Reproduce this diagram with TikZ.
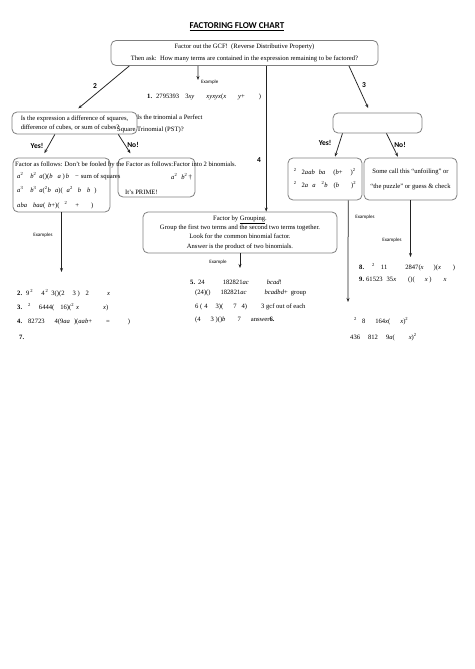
\documentclass[tikz,border=0pt]{standalone}
\usepackage{fontspec}
\setmainfont{Liberation Serif}
\setsansfont{Carlito}
\usetikzlibrary{arrows.meta, positioning, calc}
\definecolor{boxGray}{HTML}{7F7F7F}
\definecolor{lineDark}{HTML}{222222}
\newcommand{\sqd}{\textsuperscript{2}}
\newcommand{\vx}[1]{\textit{#1}}

\begin{document}
\begin{tikzpicture}[x=1pt, y=-1pt,
    every node/.style={font=\fontsize{6.6}{9.3}\selectfont},
    flowbox/.style={draw=boxGray, rounded corners=5pt, line width=0.8pt, align=center, inner sep=1pt},
    row/.style={anchor=west, inner sep=0pt},
    tag/.style={font=\sffamily\bfseries\fontsize{7.5}{8}\selectfont, inner sep=0pt},
    exl/.style={font=\sffamily\fontsize{5}{6}\selectfont, inner sep=0pt},
    arr/.style={-{Stealth[length=4pt, width=3pt]}, line width=0.75pt, draw=lineDark}]
  \useasboundingbox (0,0) rectangle (474,669);

  \node[font=\sffamily\bfseries\fontsize{9}{10}\selectfont] (title) at (237,27) {\underline{FACTORING FLOW CHART}};
  \node[flowbox, minimum width=267pt, minimum height=25pt, font=\fontsize{6.6}{12}\selectfont] (gcf) at (244.5,53) {Factor out the GCF!\ \ (Reverse Distributive Property)\\ Then ask:\ \ How many terms are contained in the expression remaining to be factored?};

  % example 1
  \coordinate (e1top) at ($(gcf.south west)!0.326!(gcf.south east)$);
  \coordinate (e1end) at (198,80);
  \draw[arr] (e1top) -- (e1end);
  \node[exl, anchor=west] (ex1) at (201,82) {Example};
  \node[row] (r1) at (147,97) {\textbf{1.}\hspace{4pt}2795393\hspace{6pt}3\vx{xy}\hspace{12pt}\vx{xyxyx}(\vx{x}\hspace{12pt}\vx{y}+\hspace{14pt})};

  % branch 2
  \node[flowbox, minimum width=125pt, minimum height=22pt, align=left] (sq) at (74.5,123) {Is the expression a difference of squares,\\ difference of cubes, or sum of cubes?};
  \node[row] (pst1) at (137,117) {Is the trinomial a Perfect};
  \node[row] (pst2) at (117,130) {Square Trinomial (PST)?};
  \draw[arr, shorten >=5pt] ($(gcf.south west)!0.07!(gcf.south east)$) -- (sq.north);
  \node[tag] (n2) at (95,86) {2};

  \node[flowbox, minimum width=97pt, minimum height=54pt] (fac) at (61.5,185) {};
  \node[flowbox, minimum width=77pt, minimum height=39pt] (prime) at (156.5,177.5) {};
  \draw[arr, shorten >=5pt] ($(sq.south west)!0.344!(sq.south east)$) -- ($(fac.north west)!0.3!(fac.north east)$);
  \draw[arr, shorten >=5pt] ($(sq.south west)!0.848!(sq.south east)$) -- ($(prime.north west)!0.2!(prime.north east)$);
  \node[tag] (yes1) at (37,146) {Yes!};
  \node[tag] (no1) at (133,145) {No!};

  \node[row] (fac1) at (15,165) {Factor as follows: Don't be fooled by the Factor as follows:Factor into 2 binomials.};
  \node[row] (fac2) at (17,176) {\vx{a}\sqd\hspace{7pt}\vx{b}\sqd\hspace{3pt}\vx{a}()(\vx{b}\hspace{5pt}\vx{a} )\,\vx{b}\hspace{6pt}−\hspace{2pt}sum of squares};
  \node[row] (fac3) at (17,190) {\vx{a}\textsuperscript{3}\hspace{7pt}\vx{b}\textsuperscript{3}\hspace{3pt}\vx{a}(\textsuperscript{2}\vx{b}\hspace{4pt}\vx{a})(\hspace{4pt}\vx{a}\sqd\hspace{5pt}\vx{b}\hspace{6pt}\vx{b}\hspace{4pt})};
  \node[row] (fac4) at (17,205) {\vx{aba}\hspace{6pt}\vx{baa}(\hspace{3pt}\vx{b}+)(\hspace{5pt}\sqd\hspace{8pt}+\hspace{12pt})};
  \node[row] (pr1) at (171,177) {\vx{a}\sqd\hspace{4pt}\vx{b}\sqd\,†};
  \node[row] (pr2) at (125,192) {It's PRIME!};

  \coordinate (e2end) at (61.5,272);
  \draw[arr] (fac.south) -- (e2end);
  \node[exl] (ex2) at (43,235) {Examples};
  \node[row] (r2) at (17,293) {\textbf{2.}\hspace{4pt}9\hspace{1pt}\sqd\hspace{8pt}4\hspace{1pt}\sqd\hspace{3pt}3()(2\hspace{8pt}3 )\hspace{6pt}2\hspace{18pt}\vx{x}};
  \node[row] (r3) at (17,307) {\textbf{3.}\hspace{6pt}\sqd\hspace{8pt}6444(\hspace{6pt}16)(\sqd\hspace{2pt}\vx{x}\hspace{24pt}\vx{x})};
  \node[row] (r4) at (17,322) {\textbf{4.}\hspace{6pt}82723\hspace{10pt}4(9\vx{aa}\hspace{4pt})(\vx{aab}+\hspace{14pt}=\hspace{18pt})};
  \node[row] (r7) at (19,337) {\textbf{7.}};

  % branch 4
  \coordinate (g4) at ($(gcf.south west)!0.581!(gcf.south east)$);
  \node[flowbox, minimum width=194pt, minimum height=41pt] (grp) at (240,232.5) {Factor by \underline{Grouping}.\\ Group the first two terms and the second two terms together.\\ Look for the common binomial factor.\\ Answer is the product of two binomials.};
  \draw[arr] (g4) -- (g4 |- grp.north);
  \node[tag] (n4) at (259,160) {4};
  \coordinate (e5end) at (240,268);
  \draw[arr] (grp.south) -- (e5end);
  \node[exl] (ex5) at (218,262) {Example};
  \node[row] (r5) at (190,282) {\textbf{5.}\hspace{3pt}24\hspace{18pt}182821\vx{ac}\hspace{18pt}\vx{bcad}!};
  \node[row] (r5b) at (195,293) {(24)()\hspace{10pt}182821\vx{ac}\hspace{18pt}\vx{bcadbd}+\hspace{3pt}group};
  \node[row] (r6) at (195,307) {6 (\hspace{2pt}4\hspace{8pt}3)(\hspace{10pt}7\hspace{5pt}4)\hspace{14pt}3 gcf out of each};
  \node[row] (r6b) at (195,320) {(4\hspace{10pt}3 )()\vx{b}\hspace{12pt}7\hspace{10pt}answer\textbf{6.}};

  % branch 3
  \node[flowbox, minimum width=89pt, minimum height=20pt] (blank) at (377.5,123) {};
  \draw[arr, shorten >=5pt] ($(gcf.south west)!0.89!(gcf.south east)$) -- ($(blank.north west)!0.42!(blank.north east)$);
  \node[tag] (n3) at (364,85) {3};
  \node[flowbox, minimum width=74pt, minimum height=42pt, align=left, font=\fontsize{6.6}{13}\selectfont] (pst) at (325,179) {\sqd\hspace{5pt}2\vx{aab}\hspace{4pt}\vx{ba}\hspace{8pt}(\vx{b}+\hspace{8pt})\sqd\\ \sqd\hspace{5pt}2\vx{a}\hspace{4pt}\vx{a}\hspace{6pt}\sqd\vx{b}\hspace{6pt}(\vx{b}\hspace{12pt})\sqd};
  \node[flowbox, minimum width=93pt, minimum height=42pt, font=\fontsize{6.6}{15}\selectfont] (foil) at (410.5,179) {Some call this “unfoiling” or\\ “the puzzle” or guess \& check};
  \draw[arr, shorten >=1pt] ($(blank.south west)!0.11!(blank.south east)$) -- ($(pst.north west)!0.63!(pst.north east)$);
  \draw[arr, shorten >=1pt] ($(blank.south west)!0.6!(blank.south east)$) -- ($(foil.north west)!0.37!(foil.north east)$);
  \node[tag] (yes2) at (325,143) {Yes!};
  \node[tag] (no2) at (400,145) {No!};

  \coordinate (e8end) at (348,302);
  \coordinate (e9end) at (410.5,257);
  \draw[arr] ($(pst.south west)!0.81!(pst.south east)$) -- (e8end);
  \draw[arr] (foil.south) -- (e9end);
  \node[exl] (ex8) at (365,217) {Examples};
  \node[exl] (ex9) at (392,240) {Examples};
  \node[row] (r8) at (359,267) {\textbf{8.}\hspace{8pt}\sqd\hspace{6pt}11\hspace{18pt}2847(\vx{x}\hspace{10pt})(\vx{x}\hspace{12pt})};
  \node[row] (r9) at (359,280) {\textbf{9.}\hspace{2pt}61523\hspace{4pt}35\vx{x}\hspace{12pt}()(\hspace{10pt}\vx{x} )\hspace{12pt}\vx{x}};
  \node[row] (r10) at (354,321) {\sqd\hspace{5pt}8\hspace{10pt}164\vx{x}(\hspace{10pt}\vx{x})\sqd};
  \node[row] (r11) at (350,337) {436\hspace{8pt}812\hspace{8pt}9\vx{a}(\hspace{14pt}\vx{x})\sqd};
\end{tikzpicture}
\end{document}
